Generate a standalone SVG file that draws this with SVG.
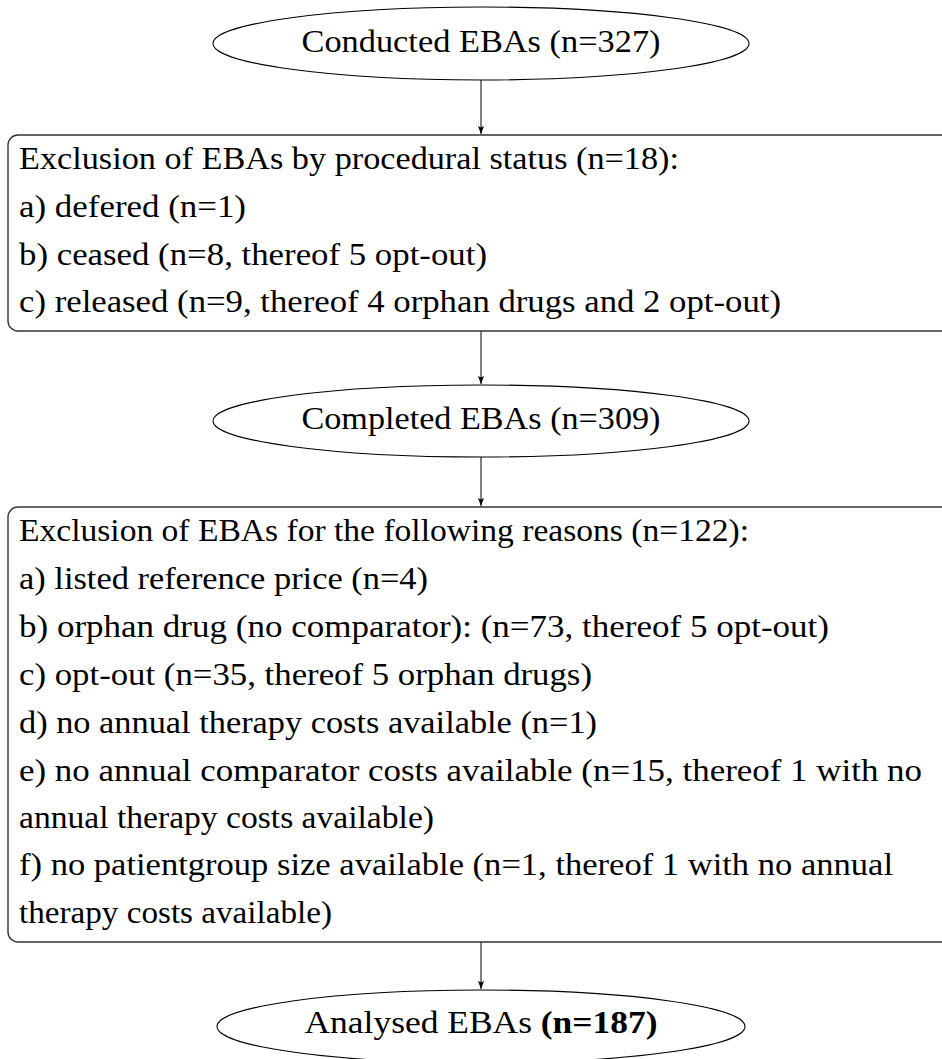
<svg xmlns="http://www.w3.org/2000/svg" width="942" height="1059" viewBox="0 0 942 1059">
<style>
text{font-family:"Liberation Serif","Times New Roman",serif;font-size:30.5px;fill:#000}
.n{fill:#fff;stroke:#000;stroke-width:1.1}
.b{fill:#fff;stroke:#333;stroke-width:1.4}
.e{stroke:#000;stroke-width:1;fill:none}
.m{text-anchor:middle}
</style>
<defs>
<marker id="ah" markerWidth="10" markerHeight="8" refX="8" refY="3.5" orient="auto" markerUnits="userSpaceOnUse">
<path d="M0,0.5 L8,3.5 L0,6.5 L1.5,3.5 Z" fill="#000"/>
</marker>
</defs>
<g id="connectors">
<line class="e" x1="481" y1="80" x2="481" y2="134" marker-end="url(#ah)"/>
<line class="e" x1="481" y1="331" x2="481" y2="384" marker-end="url(#ah)"/>
<line class="e" x1="481" y1="457" x2="481" y2="506" marker-end="url(#ah)"/>
<line class="e" x1="481" y1="942" x2="481" y2="989" marker-end="url(#ah)"/>
</g>
<g id="conducted">
<ellipse class="n" cx="481" cy="43.5" rx="268" ry="36.5"/>
<text class="m" x="481" y="52" textLength="359" lengthAdjust="spacingAndGlyphs">Conducted EBAs (n=327)</text>
</g>
<g id="exclusion1">
<rect class="b" x="8" y="135" width="980" height="196" rx="10"/>
<text x="19" y="169" textLength="660" lengthAdjust="spacingAndGlyphs">Exclusion of EBAs by procedural status (n=18):</text>
<text x="19" y="217" textLength="227" lengthAdjust="spacingAndGlyphs">a) defered (n=1)</text>
<text x="19" y="265" textLength="468" lengthAdjust="spacingAndGlyphs">b) ceased (n=8, thereof 5 opt-out)</text>
<text x="19" y="312" textLength="762" lengthAdjust="spacingAndGlyphs">c) released (n=9, thereof 4 orphan drugs and 2 opt-out)</text>
</g>
<g id="completed">
<ellipse class="n" cx="481" cy="421" rx="268" ry="36"/>
<text class="m" x="481" y="429" textLength="359" lengthAdjust="spacingAndGlyphs">Completed EBAs (n=309)</text>
</g>
<g id="exclusion2">
<rect class="b" x="8" y="507" width="980" height="435" rx="10"/>
<text x="19" y="541" textLength="730" lengthAdjust="spacingAndGlyphs">Exclusion of EBAs for the following reasons (n=122):</text>
<text x="19" y="589" textLength="409" lengthAdjust="spacingAndGlyphs">a) listed reference price (n=4)</text>
<text x="19" y="637" textLength="810" lengthAdjust="spacingAndGlyphs">b) orphan drug (no comparator): (n=73, thereof 5 opt-out)</text>
<text x="19" y="685" textLength="573" lengthAdjust="spacingAndGlyphs">c) opt-out (n=35, thereof 5 orphan drugs)</text>
<text x="19" y="733" textLength="578" lengthAdjust="spacingAndGlyphs">d) no annual therapy costs available (n=1)</text>
<text x="19" y="781" textLength="903" lengthAdjust="spacingAndGlyphs">e) no annual comparator costs available (n=15, thereof 1 with no</text>
<text x="19" y="828" textLength="415" lengthAdjust="spacingAndGlyphs">annual therapy costs available)</text>
<text x="19" y="875" textLength="874" lengthAdjust="spacingAndGlyphs">f) no patientgroup size available (n=1, thereof 1 with no annual</text>
<text x="19" y="923" textLength="313" lengthAdjust="spacingAndGlyphs">therapy costs available)</text>
</g>
<g id="analysed">
<ellipse class="n" cx="481" cy="1026.5" rx="264" ry="36.5"/>
<text class="m" x="481" y="1033" textLength="353" lengthAdjust="spacingAndGlyphs">Analysed EBAs <tspan font-weight="bold">(n=187)</tspan></text>
</g>
</svg>
